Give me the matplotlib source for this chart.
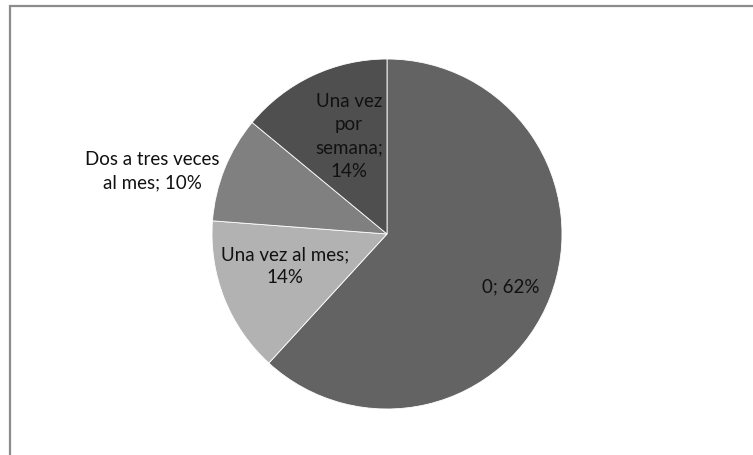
import numpy as np
import matplotlib
matplotlib.use('Agg')
import matplotlib.pyplot as plt
from matplotlib.patches import Rectangle

# datos del gráfico
categorias = ['0', 'Una vez al mes', 'Dos a tres veces\nal mes', 'Una vez\npor\nsemana']
valores = [61.8, 14.4, 9.8, 14.0]
colores = ['#636363', '#b2b2b2', '#808080', '#4f4f4f']

plt.rcParams['font.family'] = ['Lato', 'DejaVu Sans']

fig = plt.figure(figsize=(7.53, 4.55), dpi=100)
ax = fig.add_axes([0, 0, 1, 1])

centro = (387, 221)
radio = 175
wedges, _ = ax.pie(valores, colors=colores, startangle=90, counterclock=False,
                   center=centro, radius=radio, frame=True,
                   wedgeprops=dict(edgecolor='white', linewidth=0.6))
ax.set_xlim(0, 753)
ax.set_ylim(0, 455)
ax.axis('off')

# etiquetas: texto y distancia relativa al radio
textos = ['0; 62%', 'Una vez al mes;\n14%', 'Dos a tres veces\nal mes; 10%',
          'Una vez\npor\nsemana;\n14%']
distancias = [0.77, 0.61, 1.39, 0.60]
ajuste_ang = [-2, -4, 7, -4]
for w, t, d, da in zip(wedges, textos, distancias, ajuste_ang):
    ang = np.deg2rad((w.theta1 + w.theta2) / 2 + da)
    x = centro[0] + d * radio * np.cos(ang)
    y = centro[1] + d * radio * np.sin(ang)
    ax.text(x, y, t, ha='center', va='center', fontsize=13.5, color='#111111',
            linespacing=1.45)

# marco gris del área del gráfico
fig.patches.append(Rectangle((9.5 / 753, -0.1), 1.2, (455 - 6.5) / 455 + 0.1,
                             transform=fig.transFigure, fill=False,
                             edgecolor='#8c8c8c', linewidth=1.6))

fig.savefig('out.png', dpi=100)
